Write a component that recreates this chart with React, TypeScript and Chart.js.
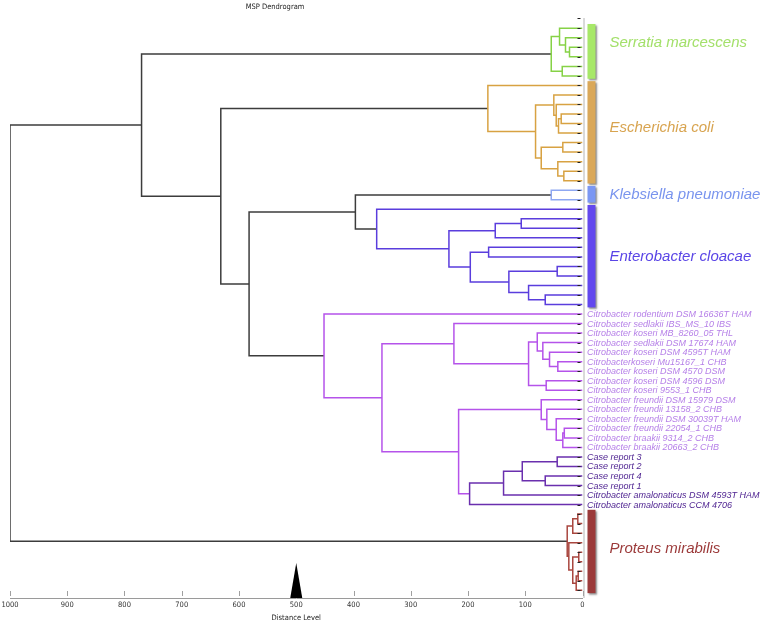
import React, { useEffect, useRef } from 'react';
import { Chart, registerables } from 'chart.js';

Chart.register(...registerables);

// ---------- DATA ----------
const clusterNames = [
  'Serratia marcescens',
  'Escherichia coli',
  'Klebsiella pneumoniae',
  'Enterobacter cloacae',
  'Citrobacter',
  'Proteus mirabilis',
];
const clusterSizes = [6, 11, 2, 11, 21, 9];
const clusterHasBar = [true, true, true, true, false, true];
const clusterLabelRow = [1.5, 10.4, 17.5, 24, -1, 54.6];

const citrobacterLabels = [
  'Citrobacter rodentium DSM 16636T HAM',
  'Citrobacter sedlakii IBS_MS_10 IBS',
  'Citrobacter koseri MB_8260_05 THL',
  'Citrobacter sedlakii DSM 17674 HAM',
  'Citrobacter koseri DSM 4595T HAM',
  'Citrobacterkoseri Mu15167_1 CHB',
  'Citrobacter koseri DSM 4570 DSM',
  'Citrobacter koseri DSM 4596 DSM',
  'Citrobacter koseri 9553_1 CHB',
  'Citrobacter freundii DSM 15979 DSM',
  'Citrobacter freundii 13158_2 CHB',
  'Citrobacter freundii DSM 30039T HAM',
  'Citrobacter freundii 22054_1 CHB',
  'Citrobacter braakii 9314_2 CHB',
  'Citrobacter braakii 20663_2 CHB',
  'Case report 3',
  'Case report 2',
  'Case report 4',
  'Case report 1',
  'Citrobacter amalonaticus DSM 4593T HAM',
  'Citrobacter amalonaticus CCM 4706',
];
// labels from this index on (within Citrobacter) are drawn in the dark shade
const citrobacterDarkFrom = 15;

// merges: [id, left child, right child, distance level, branch group]
const merges: [string, string, string, number, string][] = [
  // Serratia marcescens (L0-L5)
  ['s1', 'L2', 'L3', 22.7, 'S'],
  ['s2', 'L1', 's1', 29.7, 'S'],
  ['s3', 'L0', 's2', 40.1, 'S'],
  ['s4', 'L4', 'L5', 35.4, 'S'],
  ['sR', 's3', 's4', 54.6, 'S'],
  // Escherichia coli (L6-L16)
  ['e1', 'L9', 'L10', 37.2, 'E'],
  ['e2', 'e1', 'L11', 41.9, 'E'],
  ['e3', 'L8', 'e2', 45.9, 'E'],
  ['e4', 'L7', 'e3', 50.1, 'E'],
  ['e5', 'L12', 'L13', 34.4, 'E'],
  ['e6', 'L15', 'L16', 32.6, 'E'],
  ['e7', 'L14', 'e6', 43.1, 'E'],
  ['e8', 'e5', 'e7', 72.1, 'E'],
  ['e9', 'e4', 'e8', 82, 'E'],
  ['eR', 'L6', 'e9', 165.3, 'E'],
  // Klebsiella pneumoniae (L17-L18)
  ['kR', 'L17', 'L18', 54.6, 'K'],
  // Enterobacter cloacae (L19-L29)
  ['n1', 'L20', 'L21', 107, 'N'],
  ['n2', 'n1', 'L22', 152.4, 'N'],
  ['n3', 'L23', 'L24', 164, 'N'],
  ['n4', 'L25', 'L26', 44.2, 'N'],
  ['n5', 'L28', 'L29', 65.1, 'N'],
  ['n6', 'L27', 'n5', 94.2, 'N'],
  ['n7', 'n4', 'n6', 128.6, 'N'],
  ['n8', 'n3', 'n7', 196, 'N'],
  ['n9', 'n2', 'n8', 233.3, 'N'],
  ['nR', 'L19', 'n9', 359.5, 'N'],
  // Citrobacter (L30-L50)
  ['c1', 'L35', 'L36', 43.1, 'C'],
  ['c2', 'L34', 'c1', 57.6, 'C'],
  ['c3', 'L33', 'c2', 69.3, 'C'],
  ['c4', 'L32', 'c3', 79, 'C'],
  ['c5', 'L37', 'L38', 63.4, 'C'],
  ['c6', 'c4', 'c5', 94.2, 'C'],
  ['c7', 'L31', 'c6', 224.6, 'C'],
  ['c8', 'L42', 'L43', 31.8, 'C'],
  ['c9', 'c8', 'L44', 34.4, 'C'],
  ['c10', 'L41', 'c9', 45.9, 'C'],
  ['c11', 'L40', 'c10', 62.3, 'C'],
  ['c12', 'L39', 'c11', 72.1, 'C'],
  ['c13', 'L45', 'L46', 44.2, 'D'],
  ['c14', 'L47', 'L48', 65.1, 'D'],
  ['c15', 'c13', 'c14', 105.2, 'D'],
  ['c16', 'c15', 'L49', 137.9, 'D'],
  ['c17', 'c16', 'L50', 197.2, 'D'],
  ['c18', 'c12', 'c17', 216.4, 'C'],
  ['c19', 'c7', 'c18', 350.3, 'C'],
  ['cR', 'L30', 'c19', 451.5, 'C'],
  // Proteus mirabilis (L51-L59)
  ['p1', 'L51', 'L52', 8.2, 'P'],
  ['p2', 'p1', 'L53', 17, 'P'],
  ['p3', 'L55', 'L56', 6.5, 'P'],
  ['p4', 'L57', 'L58', 7.5, 'P'],
  ['p5', 'p4', 'L59', 11, 'P'],
  ['p6', 'p3', 'p5', 17, 'P'],
  ['p7', 'L54', 'p6', 23.9, 'P'],
  ['pR', 'p2', 'p7', 26.7, 'P'],
  // upper levels
  ['tD', 'kR', 'nR', 396.7, 'T'],
  ['tC', 'tD', 'cR', 582.4, 'T'],
  ['tB', 'eR', 'tC', 631.8, 'T'],
  ['tA', 'sR', 'tB', 770.2, 'T'],
  ['root', 'tA', 'pR', 1000, 'T'],
];

const distanceTicks = [0, 100, 200, 300, 400, 500, 600, 700, 800, 900, 1000];
const distanceCutoff = 500;

// ---------- STYLES ----------
const branchColors: Record<string, string> = {
  S: '#86d246',
  E: '#d8a242',
  K: '#8ea7f2',
  N: '#5a3ddd',
  C: '#b553ea',
  D: '#6a2fae',
  P: '#a9463f',
  T: '#3c3c3c',
};
const barColors = ['#a7e868', '#daa859', '#7b97f3', '#6248ee', '', '#9b3a3a'];
const labelColors = ['#a3e06a', '#d8a450', '#7994ee', '#5a45e6', '', '#9c3b3b'];
const leafLight = '#b680e8';
const leafDark = '#4a1e8e';
const NARROW = '"Liberation Sans Narrow", "DejaVu Sans Condensed", "Liberation Sans", Arial, sans-serif';
const SANS = '"Liberation Sans", Arial, sans-serif';

function buildTree() {
  const pos: Record<string, { x: number; y: number }> = {};
  const total = clusterSizes.reduce((a, b) => a + b, 0);
  for (let i = 0; i < total; i++) pos['L' + i] = { x: 0, y: i };
  const datasets: any[] = [];
  for (const [id, a, b, h, g] of merges) {
    const pa = pos[a];
    const pb = pos[b];
    pos[id] = { x: h, y: (pa.y + pb.y) / 2 };
    datasets.push({
      data: [
        { x: pa.x, y: pa.y },
        { x: h, y: pa.y },
        { x: h, y: pb.y },
        { x: pb.x, y: pb.y },
      ],
      borderColor: branchColors[g],
      borderWidth: 1.5,
      showLine: true,
      pointRadius: 0,
      fill: false,
      tension: 0,
    });
  }
  return { datasets, total };
}

export default function App() {
  const ref = useRef<HTMLCanvasElement>(null);
  useEffect(() => {
    if (!ref.current) return;
    const { datasets, total } = buildTree();

    const overlay = {
      id: 'overlay',
      afterDatasetsDraw(chart: any) {
        const ctx = chart.ctx as CanvasRenderingContext2D;
        const xs = chart.scales.x;
        const ys = chart.scales.y;
        const area = chart.chartArea;
        const x0 = xs.getPixelForValue(0);
        ctx.save();
        // vertical leaf axis
        ctx.strokeStyle = '#b4b4b4';
        ctx.lineWidth = 1;
        ctx.beginPath();
        ctx.moveTo(x0 + 1.5, area.top);
        ctx.lineTo(x0 + 1.5, area.bottom);
        ctx.stroke();
        // leaf tick marks
        ctx.strokeStyle = '#222';
        ctx.lineWidth = 1;
        for (let i = -1; i < total; i++) {
          const y = i < 0 ? area.top + 0.5 : Math.round(ys.getPixelForValue(i)) + 0.5;
          ctx.beginPath();
          ctx.moveTo(x0 - 5, y);
          ctx.lineTo(x0 - 2, y);
          ctx.stroke();
        }
        // distance tick marks (inside)
        ctx.strokeStyle = '#a0a0a0';
        for (const t of distanceTicks) {
          const px = Math.round(xs.getPixelForValue(t)) + 0.5;
          ctx.beginPath();
          ctx.moveTo(px, area.bottom - 7);
          ctx.lineTo(px, area.bottom - 2);
          ctx.stroke();
        }
        // cutoff triangle
        const cx = xs.getPixelForValue(distanceCutoff);
        ctx.fillStyle = '#000';
        ctx.beginPath();
        ctx.moveTo(cx - 6, area.bottom);
        ctx.lineTo(cx, area.bottom - 35);
        ctx.lineTo(cx + 6, area.bottom);
        ctx.closePath();
        ctx.fill();
        // cluster bars & labels
        let start = 0;
        clusterSizes.forEach((n, k) => {
          const first = start;
          const last = start + n - 1;
          start += n;
          if (clusterHasBar[k]) {
            const y1 = ys.getPixelForValue(first - 0.45);
            const y2 = ys.getPixelForValue(last + 0.3);
            ctx.save();
            ctx.shadowColor = 'rgba(0,0,0,0.45)';
            ctx.shadowOffsetX = 1.5;
            ctx.shadowOffsetY = 1.5;
            ctx.shadowBlur = 2;
            ctx.fillStyle = barColors[k];
            ctx.fillRect(x0 + 5, y1, 8, y2 - y1);
            ctx.restore();
            ctx.fillStyle = labelColors[k];
            ctx.font = 'italic 15px ' + SANS;
            ctx.textAlign = 'left';
            ctx.textBaseline = 'middle';
            ctx.fillText(clusterNames[k], x0 + 27, ys.getPixelForValue(clusterLabelRow[k]));
          } else {
            ctx.font = 'italic 9px ' + SANS;
            ctx.textAlign = 'left';
            ctx.textBaseline = 'middle';
            for (let i = 0; i < n; i++) {
              ctx.fillStyle = i >= citrobacterDarkFrom ? leafDark : leafLight;
              ctx.fillText(citrobacterLabels[i], x0 + 4.5, ys.getPixelForValue(first + i) + 0.5);
            }
          }
        });
        // title
        ctx.fillStyle = '#222';
        ctx.font = '7.5px ' + NARROW;
        ctx.textAlign = 'center';
        ctx.textBaseline = 'middle';
        ctx.fillText('MSP Dendrogram', 275, 7);
        ctx.restore();
      },
    };

    const chart = new Chart(ref.current, {
      type: 'scatter',
      data: { datasets },
      options: {
        animation: false,
        responsive: false,
        devicePixelRatio: 1,
        layout: { padding: { left: 10, right: 178.5, top: 18, bottom: 2 } },
        plugins: { legend: { display: false }, tooltip: { enabled: false }, title: { display: false } },
        elements: { point: { radius: 0 }, line: { tension: 0 } },
        scales: {
          x: {
            type: 'linear',
            reverse: true,
            min: 0,
            max: 1000,
            afterBuildTicks: (s: any) => {
              s.ticks = distanceTicks.map((v) => ({ value: v }));
            },
            ticks: {
              color: '#333',
              font: { family: NARROW, size: 7.5 },
              padding: 3,
              maxRotation: 0,
              autoSkip: false,
              callback: (v: any) => String(v),
            },
            grid: { display: false, drawTicks: false },
            border: { display: true, color: '#9a9a9a', width: 1 },
            title: {
              display: true,
              text: 'Distance Level',
              color: '#222',
              font: { family: NARROW, size: 7.5 },
              padding: { top: 1, bottom: 0 },
            },
          },
          y: {
            type: 'linear',
            reverse: true,
            min: -1.08,
            max: 59.81,
            display: false,
          },
        },
      },
      plugins: [overlay],
    } as any);
    return () => chart.destroy();
  }, []);

  return (
    <div style={{ position: 'absolute', left: 0, top: 0, width: 761, height: 625, background: '#fff' }}>
      <canvas ref={ref} width={761} height={625} />
    </div>
  );
}
